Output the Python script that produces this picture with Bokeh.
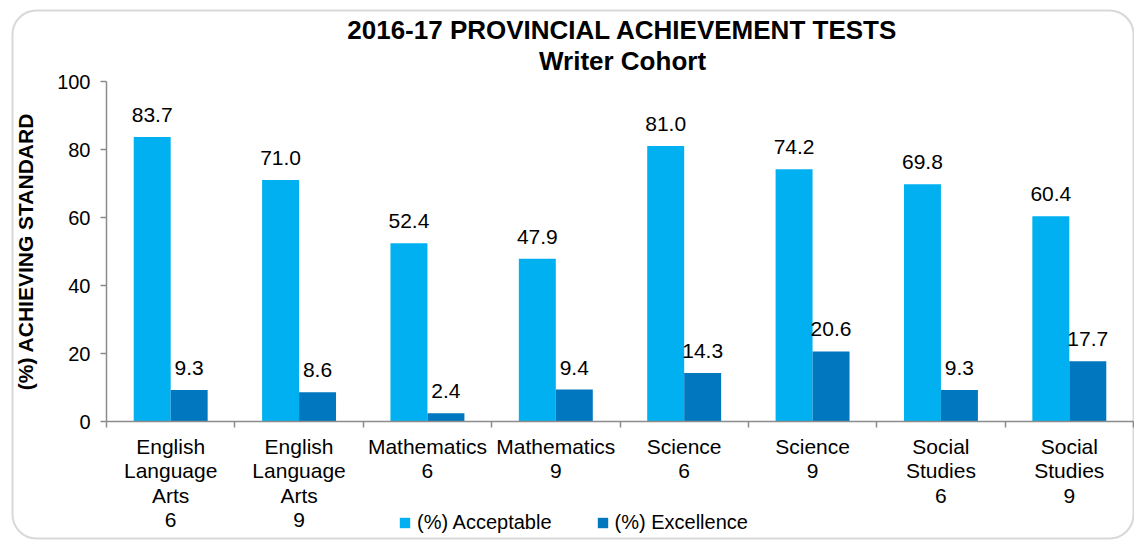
from bokeh.plotting import figure
from bokeh.models import (ColumnDataSource, Range1d, FixedTicker, Legend, LegendItem,
                          LabelSet, Label, BoxAnnotation)
from bokeh.core.properties import value
from bokeh.embed import file_html
from bokeh.resources import INLINE

categories = ["English\nLanguage\nArts\n6", "English\nLanguage\nArts\n9", "Mathematics\n6", "Mathematics\n9",
              "Science\n6", "Science\n9", "Social\nStudies\n6", "Social\nStudies\n9"]
acceptable = [83.7, 71.0, 52.4, 47.9, 81.0, 74.2, 69.8, 60.4]
excellence = [9.3, 8.6, 2.4, 9.4, 14.3, 20.6, 9.3, 17.7]
y_ticks = [0, 20, 40, 60, 80, 100]
title_lines = ["2016-17 PROVINCIAL ACHIEVEMENT TESTS", "Writer Cohort"]
series_names = ["(%) Acceptable", "(%) Excellence"]

FONT = "Liberation Sans"
LIGHT = "#00B0F0"
DARK = "#0077BE"
GRAY = "#8C8C8C"

W, H = 1134, 540
# frame covers the whole canvas; data area: x 0..n -> px 106..1133, y 0..100 -> px 421..81
X0, X1 = 106, 1133
Y0, Y100 = 421, 81
n = len(categories)
ppx = (X1 - X0) / n
ppy = (Y0 - Y100) / 100.0

centers = [i + 0.5 for i in range(n)]
bw = 0.288

src = ColumnDataSource(dict(
    xa=[c - bw / 2 for c in centers],
    xe=[c + bw / 2 for c in centers],
    acc=acceptable,
    exc=excellence,
    acc_lbl=[f"{v:.1f}" for v in acceptable],
    exc_lbl=[f"{v:.1f}" for v in excellence],
))

p = figure(width=W, height=H, output_backend="svg", toolbar_location=None,
           x_range=Range1d(-X0 / ppx, (W - X0) / ppx),
           y_range=Range1d(-(H - Y0) / ppy, Y0 / ppy),
           min_border=0, min_border_left=0, min_border_right=0, min_border_top=0, min_border_bottom=0)
p.title = None
p.xgrid.visible = False
p.ygrid.visible = False
p.outline_line_color = None
p.background_fill_color = "white"
p.border_fill_color = "white"

r_acc = p.vbar(x="xa", top="acc", width=bw, source=src, fill_color=LIGHT, line_color=None)
r_exc = p.vbar(x="xe", top="exc", width=bw, source=src, fill_color=DARK, line_color=None)

# y axis
ya = p.yaxis[0]
ya.fixed_location = 0
ya.bounds = (0, 100)
ya.ticker = FixedTicker(ticks=y_ticks)
ya.axis_line_color = GRAY
ya.axis_line_width = 1.5
ya.major_tick_line_color = GRAY
ya.major_tick_line_width = 1.5
ya.major_tick_out = 6
ya.major_tick_in = 0
ya.minor_tick_line_color = None
ya.major_label_text_font = FONT
ya.major_label_text_font_size = "20px"
ya.major_label_text_color = "black"
ya.major_label_standoff = 10
ya.axis_label = "(%) ACHIEVING STANDARD"
ya.axis_label_text_font = FONT
ya.axis_label_text_font_size = "21px"
ya.axis_label_text_font_style = "bold"
ya.axis_label_text_color = "black"
ya.axis_label_standoff = 17

# x axis: labels at category centres, tick marks at category boundaries (minor ticks)
xa = p.xaxis[0]
xa.fixed_location = 0
xa.bounds = (0, n)
xa.ticker = FixedTicker(ticks=centers, minor_ticks=list(range(n + 1)))
xa.major_label_overrides = {c: lab for c, lab in zip(centers, categories)}
xa.axis_line_color = GRAY
xa.axis_line_width = 1.5
xa.major_tick_line_color = None
xa.major_tick_out = 0
xa.major_tick_in = 0
xa.minor_tick_line_color = GRAY
xa.minor_tick_line_width = 1.5
xa.minor_tick_out = 6
xa.minor_tick_in = 0
xa.major_label_text_font = FONT
xa.major_label_text_font_size = "21px"
xa.major_label_text_color = "black"
xa.major_label_text_line_height = 1.07
xa.major_label_standoff = 7

# value labels
for xcol, ycol, tcol in [("xa", "acc", "acc_lbl"), ("xe", "exc", "exc_lbl")]:
    ls = LabelSet(x=xcol, y=ycol, text=tcol, source=src, y_offset=15, text_align="center",
                  text_baseline="alphabetic", text_font=value(FONT), text_font_size=value("21px"),
                  text_color="black")
    p.add_layout(ls)

# title (two centred lines)
for txt, base in zip(title_lines, [29, 60]):
    p.add_layout(Label(x=622, y=H - base, x_units="screen", y_units="screen", text=txt,
                       text_align="center", text_baseline="alphabetic", text_font=FONT,
                       text_font_size="26px", text_font_style="bold", text_color="black"))

# legend
legend = Legend(items=[LegendItem(label=series_names[0], renderers=[r_acc]),
                       LegendItem(label=series_names[1], renderers=[r_exc])],
                location=(398, 6), orientation="horizontal",
                glyph_width=13, glyph_height=13, label_standoff=6, spacing=44,
                label_text_font=FONT, label_text_font_size="20px", label_text_color="black",
                border_line_color=None, background_fill_alpha=0, padding=0, margin=0)
p.add_layout(legend, "center")

# outer rounded border
border = BoxAnnotation(left=12, right=1133, top=H - 10, bottom=H - 538,
                       left_units="screen", right_units="screen", top_units="screen", bottom_units="screen",
                       fill_alpha=0, line_color="#7F7F7F", line_width=2, border_radius=24)
p.add_layout(border)

open("out.html", "w").write(file_html(p, INLINE))
